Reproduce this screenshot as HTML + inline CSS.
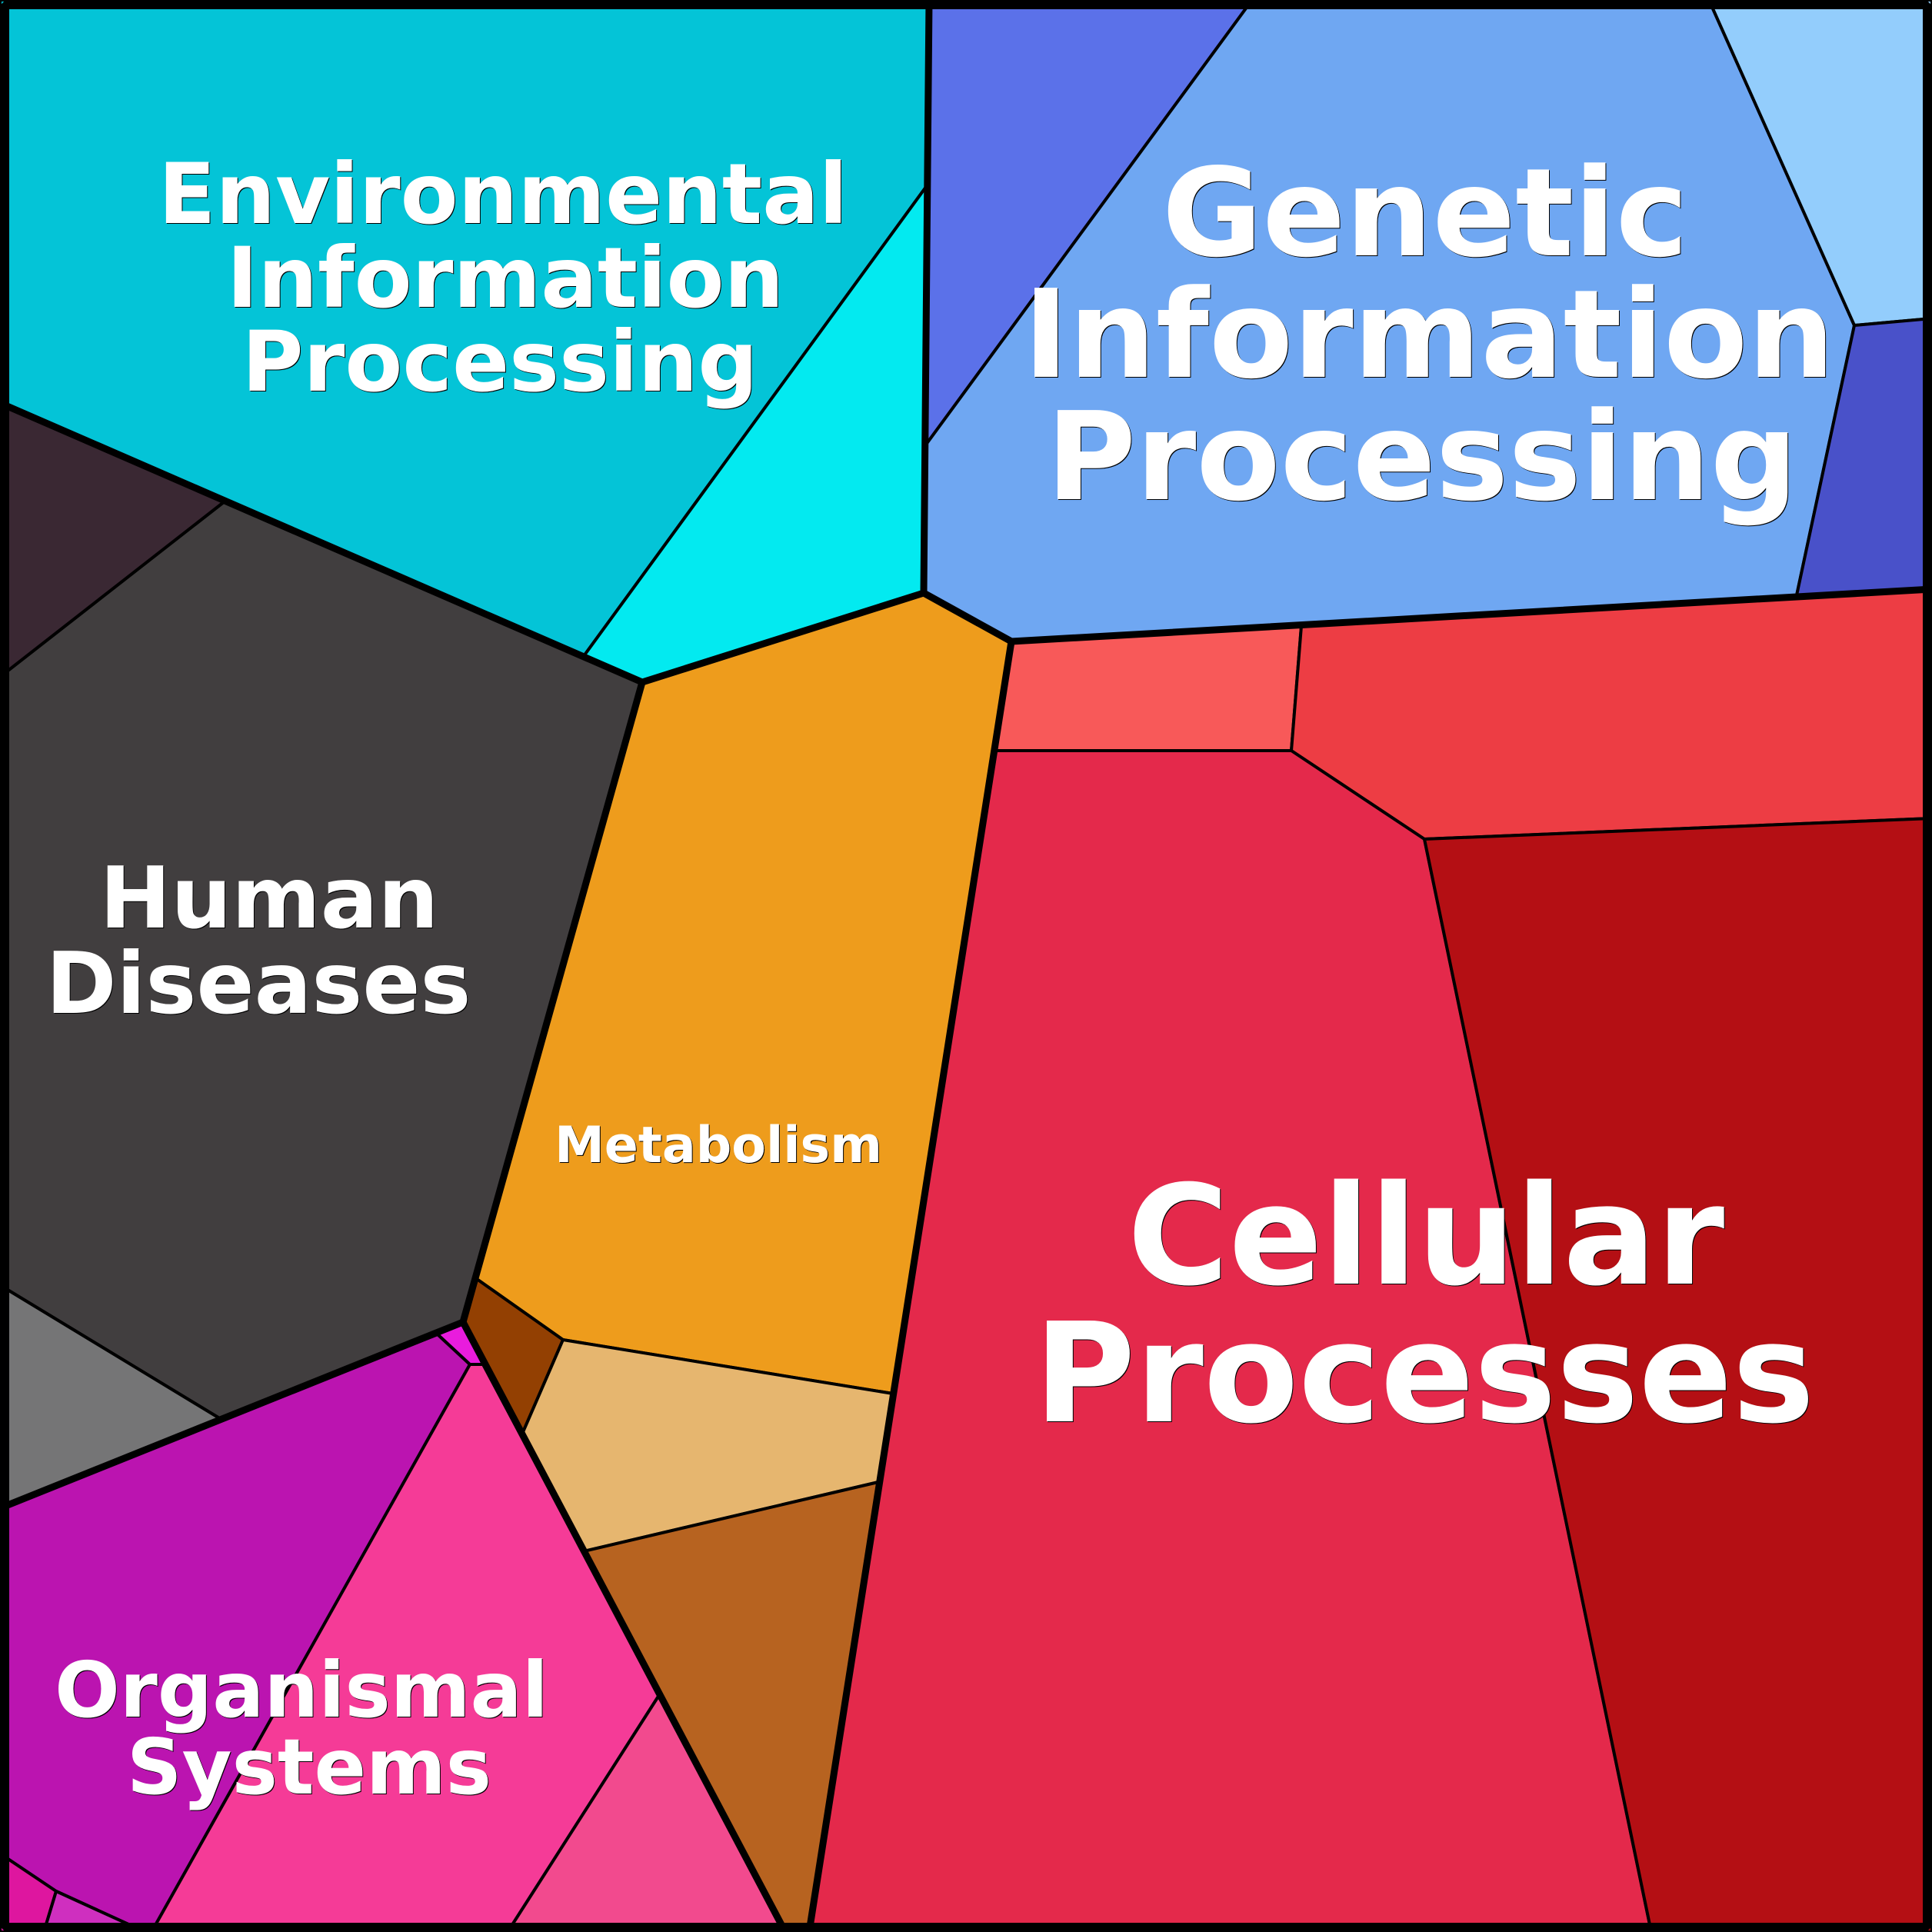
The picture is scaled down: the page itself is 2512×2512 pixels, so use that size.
<!DOCTYPE html>
<html><head><meta charset="utf-8"><style>
html,body{margin:0;padding:0;background:#000}
svg{display:block}
.c polygon{stroke:#000;stroke-width:4;stroke-linejoin:round}
text{font-family:"DejaVu Sans","Liberation Sans",sans-serif;font-weight:bold;fill:#fff;text-anchor:middle;filter:drop-shadow(1.5px 1.5px 0 #000)}
</style></head><body>
<svg xmlns="http://www.w3.org/2000/svg" width="2512" height="2512" viewBox="0 0 2512 2512">
<rect width="2512" height="2512" fill="#000"/>
<g class="c">
<polygon fill="#04C4D7" points="0,0 1208,0 1204,243 759,853 0,524"/>
<polygon fill="#03EAF0" points="1204,243 1201,771 835,887 759,853"/>
<polygon fill="#5B71E9" points="1208,0 1628,0 1204,578"/>
<polygon fill="#6FA7F2" points="1628,0 2222,0 2411,423 2336,774 1315,834 1201,771 1204,578"/>
<polygon fill="#93CDFC" points="2222,0 2512,0 2512,414 2411,423"/>
<polygon fill="#4951C9" points="2411,423 2512,414 2512,766 2336,774"/>
<polygon fill="#F85959" points="1315,834 1692,814 1679,976 1295,976"/>
<polygon fill="#ED3D44" points="1692,814 2512,766 2512,1064 1852,1091 1679,976"/>
<polygon fill="#E4294B" points="1295,976 1679,976 1852,1091 2147,2512 1052,2512"/>
<polygon fill="#B40F14" points="1852,1091 2512,1064 2512,2512 2147,2512"/>
<polygon fill="#EE9C1C" points="1201,771 1315,834 1161,1812 732,1742 620,1663 835,887"/>
<polygon fill="#934002" points="620,1663 732,1742 680,1862 602,1719"/>
<polygon fill="#E6B66F" points="732,1742 1161,1812 1142,1927 759,2017 680,1862"/>
<polygon fill="#B76320" points="759,2017 1142,1927 1052,2512 1021,2512"/>
<polygon fill="#413E3F" points="0,880 292,652 835,887 602,1719 287,1845 0,1671"/>
<polygon fill="#3A2833" points="0,524 292,652 0,880"/>
<polygon fill="#757576" points="0,1671 287,1845 0,1961"/>
<polygon fill="#BB14B0" points="0,1961 569,1735 611,1774 197,2512 189,2512 73,2459 0,2410"/>
<polygon fill="#E91CDD" points="602,1719 569,1735 611,1774 628,1774"/>
<polygon fill="#F53B97" points="611,1774 628,1774 857,2204 660,2512 197,2512"/>
<polygon fill="#F24A8E" points="857,2204 1021,2512 660,2512"/>
<polygon fill="#DE169F" points="0,2410 73,2459 57,2512 0,2512"/>
<polygon fill="#CF2FBF" points="73,2459 189,2512 57,2512"/>
</g>
<g fill="none" stroke="#000" stroke-width="9" stroke-linejoin="round" stroke-linecap="round">
<polyline points="0,524 835,887 1201,771 1315,834 2512,766"/>
<polyline points="1201,771 1208,0"/>
<polyline points="0,1961 602,1719 835,887"/>
<polyline points="602,1719 1021,2512"/>
<polyline points="1315,834 1052,2512"/>
</g>
<rect x="6" y="6" width="2500" height="2500" rx="6" fill="none" stroke="#000" stroke-width="12"/>
<text font-size="109.2" x="654" y="290">Environmental</text>
<text font-size="109.2" x="657" y="399">Information</text>
<text font-size="109.2" x="650" y="508">Processing</text>
<text font-size="159" x="1853" y="332">Genetic</text>
<text font-size="159" x="1858" y="490">Information</text>
<text font-size="159" x="1849" y="649">Processing</text>
<text font-size="110.8" x="350" y="1206">Human</text>
<text font-size="110.8" x="336" y="1317">Diseases</text>
<text font-size="65" x="934" y="1511">Metabolism</text>
<text font-size="179.7" x="1854" y="1669">Cellular</text>
<text font-size="179.7" x="1852" y="1848">Processes</text>
<text font-size="99.6" x="392" y="2232">Organismal</text>
<text font-size="99.6" x="402" y="2332">Systems</text>
</svg>
</body></html>
